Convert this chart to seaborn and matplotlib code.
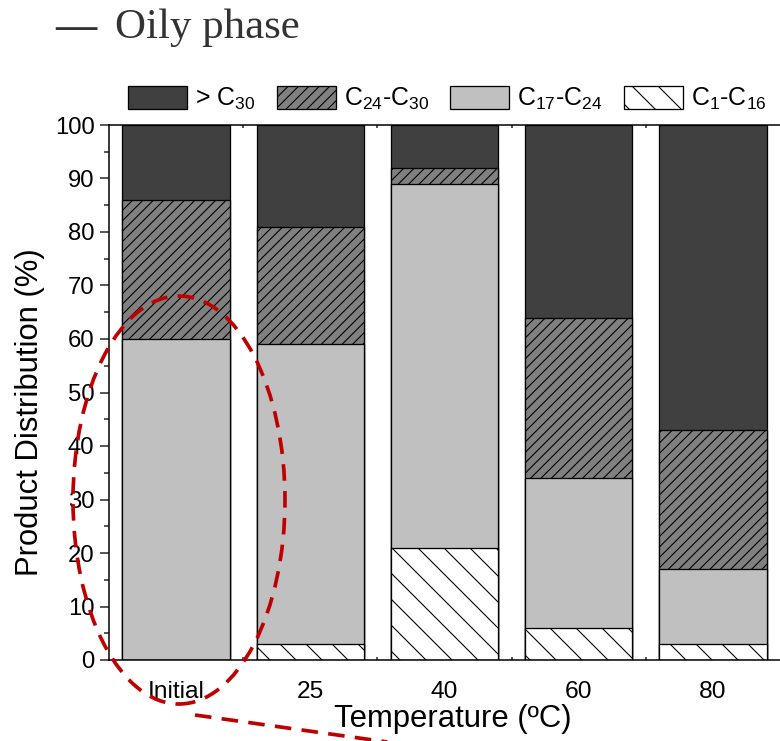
import numpy as np
import pandas as pd
import seaborn as sns
import matplotlib
matplotlib.use("Agg")
import matplotlib.pyplot as plt
from matplotlib.patches import Patch, Ellipse
from matplotlib.lines import Line2D
from matplotlib.ticker import MultipleLocator, FixedLocator

# ---- data ----
categories = ["Initial", "25", "40", "60", "80"]
c1_c16 = [0, 3, 21, 6, 3]
c17_c24 = [60, 56, 68, 28, 14]
c24_c30 = [26, 22, 3, 30, 26]
gt_c30 = [14, 19, 8, 36, 57]

series_labels = ["> $\\mathregular{C_{30}}$",
                 "$\\mathregular{C_{24}}$-$\\mathregular{C_{30}}$",
                 "$\\mathregular{C_{17}}$-$\\mathregular{C_{24}}$",
                 "$\\mathregular{C_{1}}$-$\\mathregular{C_{16}}$"]

sns.set_style("ticks")
plt.rcParams["font.family"] = ["Liberation Sans", "DejaVu Sans"]
plt.rcParams["mathtext.fontset"] = "custom"
plt.rcParams["mathtext.rm"] = "Liberation Sans"
plt.rcParams["hatch.linewidth"] = 0.5

DPI = 156
fig = plt.figure(figsize=(780 / DPI, 741 / DPI), dpi=DPI)
ax = fig.add_axes([109 / 780, 1 - 660 / 741, 671 / 780, 535 / 741])

df = pd.DataFrame({"cat": categories, "c1": c1_c16, "c17": c17_c24,
                   "c24": c24_c30, "c30": gt_c30})
df["s1"] = df["c1"]
df["s2"] = df["s1"] + df["c17"]
df["s3"] = df["s2"] + df["c24"]
df["s4"] = df["s3"] + df["c30"]

styles = [
    ("s4", "#404040", None),
    ("s3", "#808080", "/////"),
    ("s2", "#c0c0c0", None),
    ("s1", "#ffffff", "\\\\"),
]
for col, fc, hatch in styles:
    sns.barplot(data=df, x="cat", y=col, color=fc, saturation=1, width=0.8,
                edgecolor="black", linewidth=0.6, hatch=hatch, ax=ax)

ax.set_xlim(-0.5, 4.5)
ax.set_ylim(0, 100)
ax.yaxis.set_major_locator(MultipleLocator(10))
ax.yaxis.set_minor_locator(MultipleLocator(5))
ax.xaxis.set_minor_locator(FixedLocator([0.5, 1.5, 2.5, 3.5]))
ax.set_xticks(range(len(categories)))
ax.set_xticklabels(categories)

for s in ["left", "bottom", "top"]:
    ax.spines[s].set_linewidth(0.7)
    ax.spines[s].set_color("black")
ax.spines["right"].set_visible(False)

ax.tick_params(axis="y", which="major", direction="out", length=4.2, width=0.7,
               labelsize=11, pad=2.5, right=False, labelcolor="black")
ax.tick_params(axis="y", which="minor", direction="out", length=2.3, width=0.7,
               right=False)
ax.tick_params(axis="x", which="both", direction="in", length=1.4, width=0.7,
               top=True, bottom=True, labelsize=11.3, pad=9.5,
               labelcolor="black")

ax.set_xlabel("Temperature (ºC)", fontsize=14.3, color="black")
ax.set_ylabel("Product Distribution (%)", fontsize=14.3, color="black")
ax.xaxis.set_label_coords(0.513, -0.083)
ax.yaxis.set_label_coords(-0.095, 0.4636)

handles = [
    Patch(facecolor="#404040", edgecolor="black", linewidth=0.6),
    Patch(facecolor="#808080", edgecolor="black", linewidth=0.6, hatch="/////"),
    Patch(facecolor="#c0c0c0", edgecolor="black", linewidth=0.6),
    Patch(facecolor="#ffffff", edgecolor="black", linewidth=0.6, hatch="\\\\"),
]
fig.legend(handles, series_labels, loc="center left",
           bbox_to_anchor=(128 / 780, 1 - 99 / 741), ncol=4, frameon=False,
           fontsize=11.5, handlelength=2.37, handleheight=1.08,
           handletextpad=0.32, columnspacing=0.85, borderpad=0,
           borderaxespad=0, labelcolor="black")

# title
fig.text(55 / 780, 1 - 38 / 741, "—", family="Liberation Serif",
         fontsize=19, fontweight="bold", color="#333333", va="baseline",
         ha="left")
fig.text(115 / 780, 1 - 38 / 741, "Oily phase", family="Liberation Serif",
         fontsize=19.8, color="#333333", va="baseline", ha="left")

# red dashed annotation
red = "#c00000"
ell = Ellipse((179 / 780, 1 - 500 / 741), 212 / 780, 408 / 741,
              transform=fig.transFigure, fill=False, edgecolor=red,
              linewidth=1.7, linestyle=(0, (4.5, 2.8)), zorder=5)
fig.add_artist(ell)
fig.add_artist(Line2D([195 / 780, 430 / 780], [1 - 715 / 741, 1 - 748 / 741],
                      transform=fig.transFigure, color=red, linewidth=1.7,
                      linestyle=(0, (4.5, 2.8)), zorder=5))

fig.savefig("out.png", dpi=DPI)
